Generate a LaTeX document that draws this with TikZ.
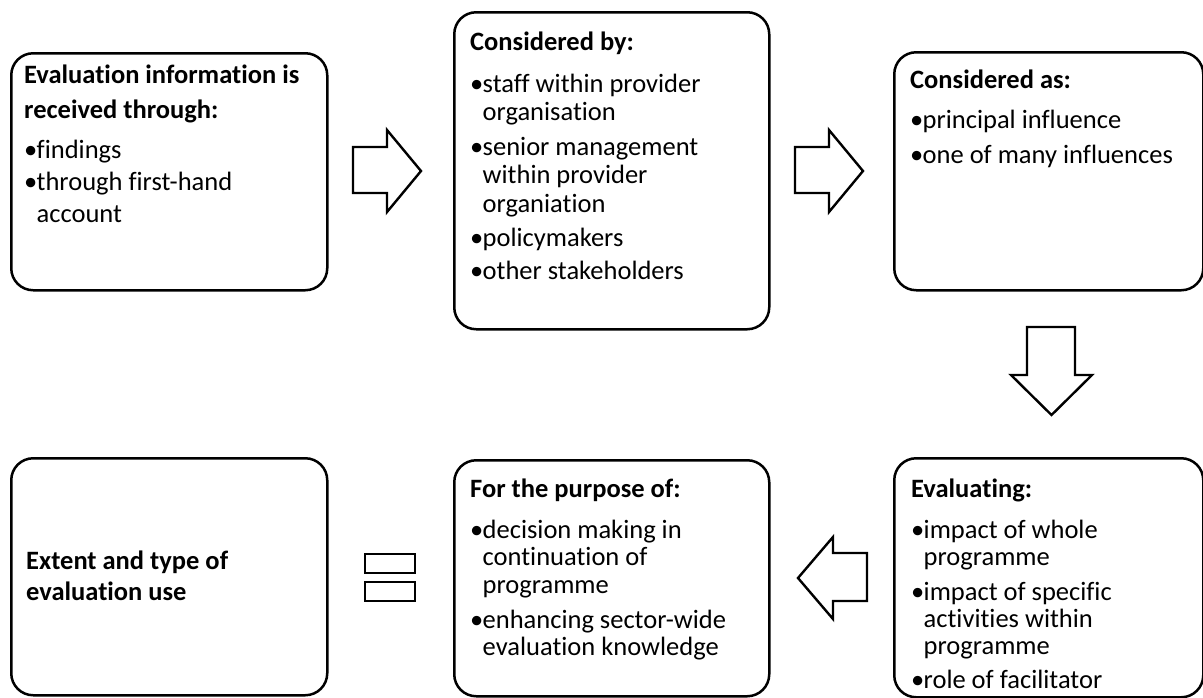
\documentclass[tikz,border=0pt]{standalone}
\usepackage{fontspec}
\setmainfont{Carlito}[Ligatures={NoCommon}]
\newcommand\bitem{\makebox[12.5pt][l]{•}}
\newcommand\bcont{\hspace*{12.5pt}}
\newcommand\fst{\rule{0pt}{22pt}}
\begin{document}
\begin{tikzpicture}[x=1pt,y=-1pt,
  box/.style={draw, line width=2.5pt, rounded corners=22pt, anchor=north west, inner sep=0pt},
  txt/.style={inner sep=0pt, align=left, anchor=north west},
  blockarrow/.style={draw, line width=2.4pt, fill=white, line join=miter},
  eqbar/.style={draw, line width=2.4pt, fill=white}]
\fill[white] (0,0) rectangle (1203,697);
\useasboundingbox (0,0) rectangle (1203,697);
\begin{scope}
\clip (0,0) rectangle (1203,697);

% boxes
\node[box, minimum width=316pt, minimum height=237pt] (b1) at (10,52) {};
\node[box, minimum width=315pt, minimum height=317pt] (b2) at (453,11) {};
\node[box, minimum width=309pt, minimum height=238pt] (b3) at (893,51) {};
\node[box, minimum width=309pt, minimum height=239pt] (b4) at (893,457) {};
\node[box, minimum width=315pt, minimum height=236pt] (b5) at (453,459) {};
\node[box, minimum width=316pt, minimum height=237pt] (b6) at (10,457) {};

% texts
\node[txt, font=\fontsize{26.5pt}{32pt}\selectfont] (t1) at (24,61)
  {\fst\textbf{Evaluation information is}\\[3pt]
   \textbf{received through:}\\[8pt]
   \bitem findings\\
   \bitem through first-hand\\
   \bcont account};

\node[txt, font=\fontsize{26.5pt}{28.5pt}\selectfont] (t2) at (470,28)
  {\fst\textbf{Considered by:}\\[13.5pt]
   \bitem staff within provider\\
   \bcont organisation\\[6pt]
   \bitem senior management\\
   \bcont within provider\\
   \bcont organiation\\[6pt]
   \bitem policymakers\\[4pt]
   \bitem other stakeholders};

\node[txt, font=\fontsize{26.5pt}{35pt}\selectfont] (t3) at (910,66)
  {\fst\textbf{Considered as:}\\[5pt]
   \bitem principal influence\\
   \bitem one of many influences};

\node[txt, font=\fontsize{26.5pt}{27pt}\selectfont] (t4) at (911,475)
  {\fst\textbf{Evaluating:}\\[14pt]
   \bitem impact of whole\\
   \bcont programme\\[8pt]
   \bitem impact of specific\\
   \bcont activities within\\
   \bcont programme\\[7pt]
   \bitem role of facilitator};

\node[txt, font=\fontsize{26.5pt}{27.5pt}\selectfont] (t5) at (470,475)
  {\fst\textbf{For the purpose of:}\\[13.5pt]
   \bitem decision making in\\
   \bcont continuation of\\
   \bcont programme\\[7.5pt]
   \bitem enhancing sector-wide\\
   \bcont evaluation knowledge};

\node[txt, font=\fontsize{26.5pt}{31pt}\selectfont] (t6) at (26,547)
  {\fst\textbf{Extent and type of}\\
   \textbf{evaluation use}};

% block arrows between the boxes
\draw[blockarrow] (353,147) -- (387,147) -- (387,130) -- (421,171) -- (387,212)
  -- (387,193) -- (353,193) -- cycle;
\draw[blockarrow] (795,147) -- (829,147) -- (829,130) -- (863,171) -- (829,212)
  -- (829,193) -- (795,193) -- cycle;
\draw[blockarrow] (1027,327) -- (1075,327) -- (1075,375) -- (1092,375) -- (1051.5,415)
  -- (1011,375) -- (1027,375) -- cycle;
\draw[blockarrow] (867,553) -- (833,553) -- (833,537) -- (798,578) -- (833,619)
  -- (833,601) -- (867,601) -- cycle;

% equals sign
\draw[eqbar] (365,554) rectangle (415,573);
\draw[eqbar] (365,582) rectangle (415,601);
\end{scope}
\end{tikzpicture}
\end{document}
